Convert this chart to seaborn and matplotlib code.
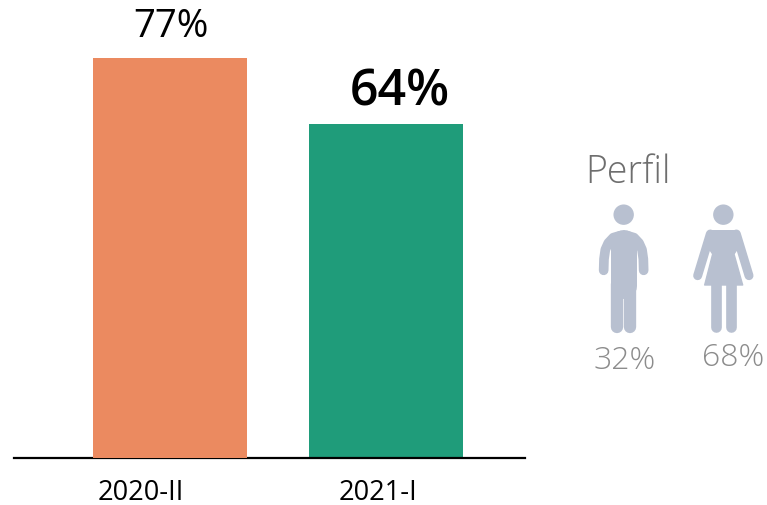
import matplotlib
matplotlib.use('Agg')
import matplotlib.pyplot as plt
from matplotlib.patches import Circle, Polygon
import pandas as pd
import seaborn as sns

periods = ['2020-II', '2021-I']
shares = [77, 64.3]
bar_colors = ['#EB8A60', '#1F9C7A']
profile_title = 'Perfil'
profile_labels = ['32%', '68%']

W, H = 767, 506
ICON = '#B8C0D0'
GREY = '#8C8C8C'

sns.set_theme(style='white')
plt.rcParams['font.family'] = ['Open Sans', 'DejaVu Sans']

fig = plt.figure(figsize=(W / 100, H / 100), dpi=100)
ax = fig.add_axes([14 / W, (H - 458.6) / H, (525 - 14) / W, 458.6 / H])

df = pd.DataFrame({'period': periods, 'share': shares})
sns.barplot(data=df, x='period', y='share', hue='period', palette=bar_colors,
            width=0.713, legend=False, saturation=1, linewidth=0, ax=ax)

ax.set_xlim(-0.722, 1.644)
ax.set_ylim(0, 458.6 / 5.195)
ax.set_xlabel('')
ax.set_ylabel('')
ax.set_yticks([])

# Category labels sit left of the bar centres in the original
ax.set_xticks([-0.134, 0.963], periods)
ax.tick_params(axis='x', length=0, pad=15, labelsize=19.5, labelcolor='black')

for s in ['top', 'right', 'left']:
    ax.spines[s].set_visible(False)
ax.spines['bottom'].set_color('black')
ax.spines['bottom'].set_linewidth(1.6)

# Orange bar runs over the axis line, green stops on it
ax.patches[0].set_zorder(3)
ax.patches[0].set_clip_on(False)

# Value labels
ax.annotate(f'{shares[0]:.0f}%', (0, shares[0]), xytext=(0.7, 9), textcoords='offset points',
            ha='center', va='bottom', fontsize=27.5, color='black')
ax.annotate(f'{shares[1]:.0f}%', (1, shares[1]), xytext=(10, 5), textcoords='offset points',
            ha='center', va='bottom', fontsize=36, color='black', fontweight='semibold')

# Overlay in pixel coordinates for the profile icons
ov = fig.add_axes([0, 0, 1, 1])
ov.set_xlim(0, W)
ov.set_ylim(H, 0)
ov.axis('off')


def z(x, y):
    # crop coordinates of the icons to image pixels
    return 570 + x / 3, 140 + y / 3


def stroke(points, width):
    xs, ys = zip(*[z(*p) for p in points])
    ov.plot(xs, ys, color=ICON, lw=width / 3 * 0.72, solid_capstyle='round', solid_joinstyle='round')


def blob(points):
    ov.add_patch(Polygon([z(*p) for p in points], closed=True, facecolor=ICON, edgecolor=ICON, lw=1, joinstyle='round'))


# Man
ov.add_patch(Circle(z(161, 227), 10.2, color=ICON, lw=0))
stroke([(161, 312), (161, 440)], 78)
stroke([(141, 435), (141, 563)], 37)
stroke([(181, 435), (181, 563)], 37)
stroke([(150, 290), (130, 296), (115, 312), (106, 332), (102, 360), (101, 394)], 29)
stroke([(172, 290), (192, 296), (207, 312), (216, 332), (220, 360), (221, 394)], 29)

# Woman
ov.add_patch(Circle(z(460, 227), 10.2, color=ICON, lw=0))
blob([(425, 285), (495, 285), (515, 310), (492, 345), (518, 438), (404, 438), (428, 345), (405, 310)])
stroke([(425, 285), (495, 285)], 27)
stroke([(421, 285), (383, 410)], 27)
stroke([(499, 285), (537, 410)], 27)
stroke([(438, 435), (438, 565)], 32)
stroke([(482, 435), (482, 565)], 32)

# Profile texts
ov.text(628, 173, profile_title, ha='center', va='center', fontsize=27, color='#6E6E6E',
        family=['Open Sans', 'DejaVu Sans'], fontweight='light')
ov.text(625, 361, profile_labels[0], ha='center', va='center', fontsize=23, color=GREY,
        family=['Open Sans', 'DejaVu Sans'], fontweight='light')
ov.text(733, 358, profile_labels[1], ha='center', va='center', fontsize=23, color=GREY,
        family=['Open Sans', 'DejaVu Sans'], fontweight='light')

fig.savefig('out.png', dpi=100, facecolor='white')
